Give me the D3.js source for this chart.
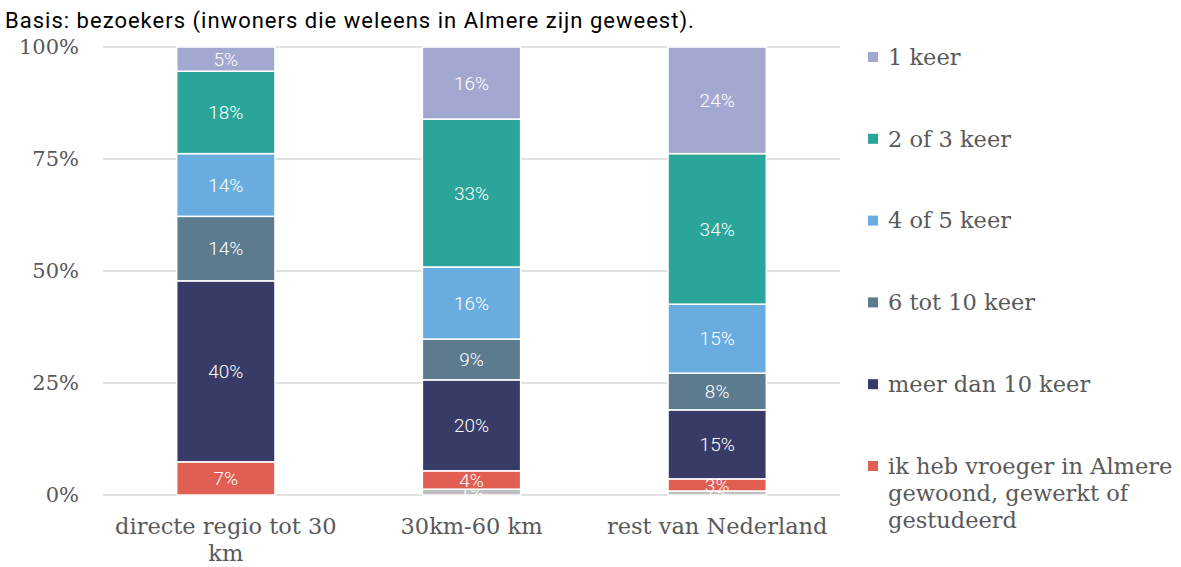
<!DOCTYPE html>
<html>
<head>
<meta charset="utf-8">
<script src="https://cdn.jsdelivr.net/npm/d3@7"></script>
<style>
  body { margin: 0; background: #fff; }
</style>
</head>
<body>
<svg width="1181" height="567"></svg>
<script>
// categories on the x axis
var categories = ["directe regio tot 30 km", "30km-60 km", "rest van Nederland"];

// series, bottom to top
var seriesNames = ["onbekend", "ik heb vroeger in Almere gewoond, gewerkt of gestudeerd",
    "meer dan 10 keer", "6 tot 10 keer", "4 of 5 keer", "2 of 3 keer", "1 keer"];
var onbekend = [0, 1.3, 0.9];
var vroeger = [7.4, 4.1, 2.7];
var meerDan10 = [40.4, 20.3, 15.4];
var zesTot10 = [14.4, 9.1, 8.2];
var vierOf5 = [14.0, 16.1, 15.4];
var tweeOf3 = [18.4, 33.0, 33.6];
var eenKeer = [5.4, 16.1, 23.8];
var seriesValues = [onbekend, vroeger, meerDan10, zesTot10, vierOf5, tweeOf3, eenKeer];
var seriesColors = ["#bfbfbf", "#e05e52", "#383b66", "#5d7b8f", "#69ade0", "#2aa59a", "#a3a8d0"];

var yTicks = [0, 25, 50, 75, 100];

var svg = d3.select("svg");
var serif = "'DejaVu Serif', serif";

var x0 = 103, x1 = 840, yTop = 47, yBot = 495;

var xScale = d3.scaleBand().domain(categories).range([x0, x1]).paddingInner(0.6).paddingOuter(0.3);
var yScale = d3.scaleLinear().domain([0, 100]).range([yBot, yTop]);

// title
var title = svg.append("text")
    .attr("x", 5).attr("y", 28)
    .attr("font-family", "Roboto, sans-serif")
    .attr("font-size", "22px")
    .attr("fill", "#000")
    .text("Basis: bezoekers (inwoners die weleens in Almere zijn geweest).");
var tw = title.node().getComputedTextLength();
title.attr("letter-spacing", ((690 - tw) / 63).toFixed(2) + "px");

// gridlines
svg.append("g").selectAll("line")
    .data(yTicks)
    .enter().append("line")
    .attr("x1", x0).attr("x2", x1)
    .attr("y1", function (d) { return yScale(d); })
    .attr("y2", function (d) { return yScale(d); })
    .attr("stroke", "#d9d9d9")
    .attr("stroke-width", 1.5);

// y axis labels
var yAxis = svg.append("g")
    .attr("transform", "translate(" + (x0 - 24) + ",0)")
    .call(d3.axisLeft(yScale).tickValues(yTicks).tickSize(0).tickPadding(0)
        .tickFormat(function (d) { return d + "%"; }));
yAxis.select(".domain").remove();
yAxis.selectAll("text")
    .attr("font-family", serif)
    .attr("font-size", "21px")
    .attr("fill", "#595959");

// stack the data
var rows = categories.map(function (c, i) {
    var r = { cat: c };
    seriesNames.forEach(function (s, j) { r[s] = seriesValues[j][i]; });
    return r;
});
var stacked = d3.stack().keys(seriesNames)(rows);

var layers = svg.append("g").selectAll("g")
    .data(stacked)
    .enter().append("g")
    .attr("fill", function (d, i) { return seriesColors[i]; });

layers.selectAll("rect")
    .data(function (d) { return d; })
    .enter().append("rect")
    .attr("x", function (d) { return xScale(d.data.cat); })
    .attr("y", function (d) { return yScale(d[1]); })
    .attr("width", xScale.bandwidth())
    .attr("height", function (d) { return Math.max(0, yScale(d[0]) - yScale(d[1])); })
    .attr("stroke", "#fff")
    .attr("stroke-width", 1.5);

// data labels
layers.selectAll("text")
    .data(function (d) { return d.filter(function (p) { return p[1] - p[0] > 0; }); })
    .enter().append("text")
    .attr("x", function (d) { return xScale(d.data.cat) + xScale.bandwidth() / 2; })
    .attr("y", function (d) { return (yScale(d[0]) + yScale(d[1])) / 2; })
    .attr("dy", "0.36em")
    .attr("text-anchor", "middle")
    .attr("font-family", "Roboto, sans-serif")
    .attr("font-weight", 300)
    .attr("font-size", "19px")
    .attr("fill", "#fff")
    .text(function (d) { return Math.round(d[1] - d[0]) + "%"; });

// x axis labels
var xLines = {
    "directe regio tot 30 km": ["directe regio tot 30", "km"],
    "30km-60 km": ["30km-60 km"],
    "rest van Nederland": ["rest van Nederland"]
};
var xLab = svg.append("g").selectAll("text")
    .data(categories)
    .enter().append("text")
    .attr("x", function (d) { return xScale(d) + xScale.bandwidth() / 2; })
    .attr("y", 534)
    .attr("text-anchor", "middle")
    .attr("font-family", serif)
    .attr("font-size", "22.5px")
    .attr("fill", "#595959");
xLab.selectAll("tspan")
    .data(function (d) { return xLines[d]; })
    .enter().append("tspan")
    .attr("x", function () { var p = this.parentNode.__data__; return xScale(p) + xScale.bandwidth() / 2; })
    .attr("dy", function (d, i) { return i === 0 ? 0 : 27; })
    .text(function (d) { return d; });

// legend, top item first
var legendItems = [
    { lines: ["1 keer"], color: seriesColors[6] },
    { lines: ["2 of 3 keer"], color: seriesColors[5] },
    { lines: ["4 of 5 keer"], color: seriesColors[4] },
    { lines: ["6 tot 10 keer"], color: seriesColors[3] },
    { lines: ["meer dan 10 keer"], color: seriesColors[2] },
    { lines: ["ik heb vroeger in Almere", "gewoond, gewerkt of", "gestudeerd"], color: seriesColors[1] }
];
var legend = svg.append("g").selectAll("g")
    .data(legendItems)
    .enter().append("g")
    .attr("transform", function (d, i) { return "translate(868," + (57 + i * 81.8) + ")"; });
legend.append("rect")
    .attr("x", 0).attr("y", -5)
    .attr("width", 10).attr("height", 10)
    .attr("fill", function (d) { return d.color; });
var lt = legend.append("text")
    .attr("x", 20).attr("y", 0)
    .attr("font-family", serif)
    .attr("font-size", "22.5px")
    .attr("fill", "#595959");
lt.selectAll("tspan")
    .data(function (d) { return d.lines; })
    .enter().append("tspan")
    .attr("x", 20)
    .attr("dy", function (d, i) { return i === 0 ? "0.35em" : 27; })
    .text(function (d) { return d; });
</script>
</body>
</html>
